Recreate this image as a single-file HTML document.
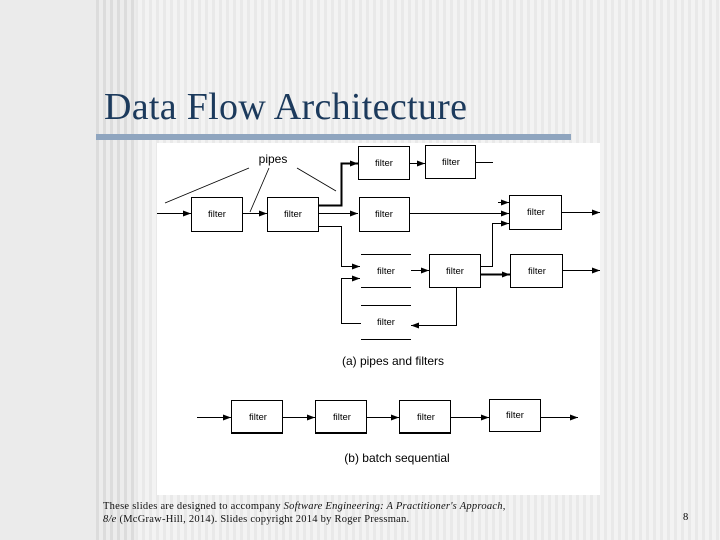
<!DOCTYPE html>
<html><head><meta charset="utf-8"><style>
body{margin:0;width:720px;height:540px;overflow:hidden;position:relative;background:#ebebeb;font-family:"Liberation Sans",sans-serif}
.bg{position:absolute;left:96px;top:0;width:624px;height:540px;background:repeating-linear-gradient(90deg,#f3f3f3 0 4px,#e9e9e9 4px 7px)}
.bg2{position:absolute;left:96px;top:0;width:40px;height:540px;background:repeating-linear-gradient(90deg,#dcdcdc 0 3px,#ececec 3px 7px)}
.title{position:absolute;left:104px;top:85px;font:38px "Liberation Serif",serif;color:#1c3a5c;letter-spacing:0.3px;white-space:nowrap}
.bar{position:absolute;left:96px;top:134px;width:475px;height:6px;background:#8fa5bf}
.foot{position:absolute;left:103px;top:500px;font:10.5px/13px "Liberation Serif",serif;color:#111;letter-spacing:0.25px;white-space:nowrap}
.pn{position:absolute;left:683px;top:512px;font:10.5px "Liberation Serif",serif}
svg{position:absolute;left:0;top:0}
</style></head><body>
<div class="bg"></div><div class="bg2"></div>
<div class="title">Data Flow Architecture</div>
<div class="bar"></div>
<svg width="720" height="540" font-family="Liberation Sans, sans-serif" font-size="9.5">
<defs><marker id="a" markerWidth="8" markerHeight="6" refX="8" refY="3" orient="auto" markerUnits="userSpaceOnUse"><path d="M0,0L8,3L0,6z" fill="#000"/></marker></defs>
<rect x="157" y="143" width="443" height="352" fill="#fff"/>
<g fill="none" stroke="#000" stroke-width="1">
<rect x="191.5" y="197.5" width="51" height="34"/>
<rect x="267.5" y="197.5" width="51" height="34"/>
<rect x="358.5" y="146.5" width="51" height="33"/>
<rect x="425.5" y="145.5" width="50" height="33"/>
<rect x="359.5" y="197.5" width="50" height="34"/>
<rect x="509.5" y="195.5" width="52" height="34"/>
<rect x="429.5" y="254.5" width="51" height="33"/>
<rect x="510.5" y="254.5" width="52" height="33"/>
<path d="M361 254.5H411M361 287.5H411M361 305.5H411M361 339.5H411"/>
<path d="M157 213.5H191" marker-end="url(#a)"/>
<path d="M242 213.5H267" marker-end="url(#a)"/>
<path d="M318 213.5H358" marker-end="url(#a)"/>
<path d="M318 205.5H341.5V163.5H358" stroke-width="2" marker-end="url(#a)"/>
<path d="M318 226.5H341.5V266.5H360" marker-end="url(#a)"/>
<path d="M361 323.5H341.5V278.5H360" marker-end="url(#a)"/>
<path d="M409 163.5H425" marker-end="url(#a)"/>
<path d="M475 162.5H493"/>
<path d="M409 213.5H509" marker-end="url(#a)"/>
<path d="M498 202.5H509" marker-end="url(#a)"/>
<path d="M480 266.5H492.5V223.5H509" marker-end="url(#a)"/>
<path d="M411 270.5H429" marker-end="url(#a)"/>
<path d="M480 274.5H510" stroke-width="2" marker-end="url(#a)"/>
<path d="M456.5 287V325.5H411" marker-end="url(#a)"/>
<path d="M561 212.5H600" marker-end="url(#a)"/>
<path d="M562 270.5H600" marker-end="url(#a)"/>
<path d="M249 168L165 203M269 168L250 212M297 168L336 191" stroke-width="0.8"/>
<rect x="231.5" y="400.5" width="51" height="32"/>
<rect x="315.5" y="400.5" width="51" height="32"/>
<rect x="399.5" y="400.5" width="51" height="32"/>
<rect x="489.5" y="399.5" width="51" height="32"/>
<path d="M231 433H283M315 433H367M399 433H451" stroke-width="2"/>
<path d="M197 417.5H231" marker-end="url(#a)"/>
<path d="M282 417.5H315" marker-end="url(#a)"/>
<path d="M366 417.5H399" marker-end="url(#a)"/>
<path d="M450 417.5H489" marker-end="url(#a)"/>
<path d="M540 417.5H578" marker-end="url(#a)"/>
</g>
<g fill="#000" text-anchor="middle">
<text x="217" y="217">filter</text><text x="293" y="217">filter</text>
<text x="384" y="166">filter</text><text x="451" y="165">filter</text>
<text x="384" y="217">filter</text><text x="536" y="215">filter</text>
<text x="386" y="274">filter</text><text x="455" y="274">filter</text><text x="537" y="274">filter</text>
<text x="386" y="325">filter</text>
<text x="258" y="420">filter</text><text x="342" y="420">filter</text><text x="426" y="420">filter</text><text x="515" y="418">filter</text>
<text x="273" y="163" font-size="12">pipes</text>
<text x="393" y="365" font-size="12">(a)  pipes and filters</text>
<text x="397" y="462" font-size="12">(b)  batch sequential</text>
</g>
</svg>
<div class="foot">These slides are designed to accompany <i>Software Engineering: A Practitioner's Approach,<br>8/e</i> (McGraw-Hill, 2014). Slides copyright 2014 by Roger Pressman.</div>
<div class="pn">8</div>
</body></html>
